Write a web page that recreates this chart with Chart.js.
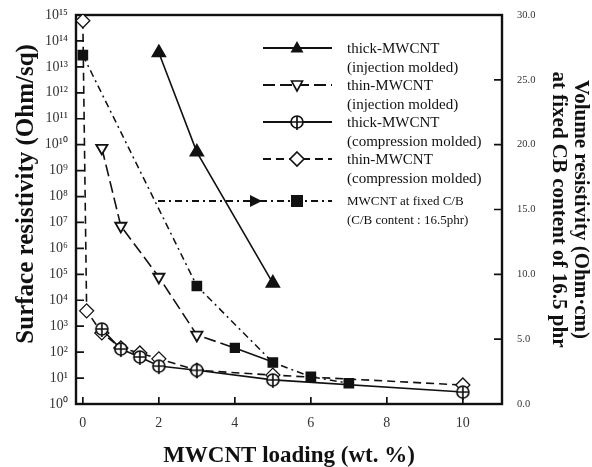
<!DOCTYPE html>
<html>
<head>
<meta charset="utf-8">
<script src="https://cdn.jsdelivr.net/npm/chart.js@4.4.0/dist/chart.umd.min.js"></script>
<style>
html, body { margin: 0; padding: 0; background: #fff; }
#wrap { width: 592px; height: 467px; }
</style>
</head>
<body>
<div id="wrap"><canvas id="myChart" width="592" height="467"></canvas></div>
<script>
'use strict';

// tick values
var loadingTicks = [0, 2, 4, 6, 8, 10];
var surfaceTicks = [1e0, 1e1, 1e2, 1e3, 1e4, 1e5, 1e6, 1e7, 1e8, 1e9, 1e10, 1e11, 1e12, 1e13, 1e14, 1e15];
var volumeTicks = [0, 5, 10, 15, 20, 25, 30];

// thick-MWCNT (injection molded), Ohm/sq
var thickInjX = [2, 3, 5];
var thickInjY = [3.5e13, 5.2e9, 4.6e4];
// thin-MWCNT (injection molded), Ohm/sq
var thinInjX = [0.5, 1, 2, 3, 4, 5];
var thinInjY = [7.4e9, 7.3e6, 7.9e4, 460, 145, 42];
// thick-MWCNT (compression molded), Ohm/sq
var thickCompX = [0.5, 1, 1.5, 2, 3, 5, 10];
var thickCompY = [780, 132, 65, 29, 20, 8.5, 2.9];
// thin-MWCNT (compression molded), Ohm/sq
var thinCompX = [0, 0.1, 0.5, 1, 1.5, 2, 3, 5, 10];
var thinCompY = [6e14, 3.9e3, 550, 145, 93, 55, 20, 13, 5.4];
// MWCNT at fixed C/B, Ohm.cm (right axis)
var fixedCbX = [0, 3, 5, 6, 7];
var fixedCbY = [26.9, 9.1, 3.2, 2.1, 1.6];

var serif = '"Liberation Serif", "Times New Roman", serif';
var ink = '#111';

function pts(xs, ys) {
    return xs.map(function(x, i) { return {x: x, y: ys[i]}; });
}

function circleCross(r) {
    var s = 2 * r + 6;
    var c = document.createElement('canvas');
    c.width = s; c.height = s;
    var g = c.getContext('2d');
    g.fillStyle = '#fff';
    g.strokeStyle = ink;
    g.lineWidth = 1.7;
    g.beginPath();
    g.arc(s / 2, s / 2, r, 0, Math.PI * 2);
    g.fill();
    g.stroke();
    g.beginPath();
    g.moveTo(s / 2 - r, s / 2); g.lineTo(s / 2 + r, s / 2);
    g.moveTo(s / 2, s / 2 - r); g.lineTo(s / 2, s / 2 + r + 2);
    g.stroke();
    return c;
}
var ocMarker = circleCross(6);

var sup = '⁰¹²³⁴⁵⁶⁷⁸⁹';
function powLabel(v) {
    var e = String(Math.round(Math.log10(v)));
    var s = '';
    for (var i = 0; i < e.length; i++) s += sup[+e[i]];
    return '10' + s;
}

function noPad(s) {
    s.paddingTop = 0;
    s.paddingBottom = 0;
}

function drawMarker(ctx, kind, x, y) {
    ctx.save();
    ctx.setLineDash([]);
    ctx.lineWidth = 1.6;
    ctx.strokeStyle = ink;
    ctx.fillStyle = ink;
    ctx.beginPath();
    if (kind === 'triUp') {
        ctx.moveTo(x, y - 7); ctx.lineTo(x + 6.5, y + 4.5); ctx.lineTo(x - 6.5, y + 4.5); ctx.closePath();
        ctx.fill();
    } else if (kind === 'triDown') {
        ctx.fillStyle = '#fff';
        ctx.moveTo(x, y + 6); ctx.lineTo(x + 5.5, y - 4); ctx.lineTo(x - 5.5, y - 4); ctx.closePath();
        ctx.fill(); ctx.stroke();
    } else if (kind === 'circleCross') {
        ctx.drawImage(ocMarker, x - ocMarker.width / 2, y - ocMarker.height / 2);
    } else if (kind === 'diamond') {
        ctx.fillStyle = '#fff';
        ctx.moveTo(x, y - 7); ctx.lineTo(x + 7, y); ctx.lineTo(x, y + 7); ctx.lineTo(x - 7, y); ctx.closePath();
        ctx.fill(); ctx.stroke();
    } else if (kind === 'square') {
        ctx.rect(x - 6, y - 6, 12, 12);
        ctx.fill();
    } else if (kind === 'arrow') {
        ctx.moveTo(x + 7, y); ctx.lineTo(x - 5, y - 6); ctx.lineTo(x - 5, y + 6); ctx.closePath();
        ctx.fill();
    }
    ctx.restore();
}

var legendRows = [
    {y: 48, dash: [], marker: 'triUp', text: ['thick-MWCNT', '(injection molded)']},
    {y: 85, dash: [12, 5], marker: 'triDown', text: ['thin-MWCNT', '(injection molded)']},
    {y: 122, dash: [], marker: 'circleCross', text: ['thick-MWCNT', '(compression molded)']},
    {y: 159, dash: [8, 5], marker: 'diamond', text: ['thin-MWCNT', '(compression molded)']},
    {y: 201, dash: [7, 4, 2, 4], marker: 'square', text: ['MWCNT at fixed C/B', '(C/B content : 16.5phr)']}
];

var framePlugin = {
    id: 'frame',
    beforeDatasetsDraw: function(chart) {
        var ctx = chart.ctx, a = chart.chartArea, s = chart.scales;
        ctx.save();
        ctx.strokeStyle = ink;
        ctx.lineWidth = 2.4;
        ctx.strokeRect(a.left, a.top, a.right - a.left, a.bottom - a.top);
        ctx.lineWidth = 1.7;
        ctx.beginPath();
        s.y.ticks.forEach(function(t) {
            var py = s.y.getPixelForValue(t.value);
            ctx.moveTo(a.left, py); ctx.lineTo(a.left + 8, py);
        });
        s.y2.ticks.forEach(function(t) {
            var py = s.y2.getPixelForValue(t.value);
            ctx.moveTo(a.right, py); ctx.lineTo(a.right - 8, py);
        });
        s.x.ticks.forEach(function(t) {
            var px = s.x.getPixelForValue(t.value);
            ctx.moveTo(px, a.bottom); ctx.lineTo(px, a.bottom - 7);
        });
        ctx.stroke();
        ctx.restore();
    },
    afterDatasetsDraw: function(chart) {
        var ctx = chart.ctx;
        ctx.save();
        legendRows.forEach(function(row, i) {
            var x0 = i === 4 ? 158 : 263;
            ctx.strokeStyle = ink;
            ctx.lineWidth = 1.8;
            ctx.setLineDash(row.dash);
            ctx.beginPath();
            ctx.moveTo(x0, row.y); ctx.lineTo(332, row.y);
            ctx.stroke();
            if (i === 4) drawMarker(ctx, 'arrow', 255, row.y);
            drawMarker(ctx, row.marker, 297, row.y);
            ctx.setLineDash([]);
            ctx.fillStyle = ink;
            ctx.textBaseline = 'middle';
            ctx.textAlign = 'left';
            ctx.font = (i === 4 ? '13px ' : '15px ') + serif;
            ctx.fillText(row.text[0], 347, row.y + 1);
            ctx.fillText(row.text[1], 347, row.y + 20);
        });
        ctx.restore();
    }
};

var ctx = document.getElementById('myChart');
var myChart = new Chart(ctx, {
    type: 'line',
    data: {
        datasets: [{
            label: 'thick-MWCNT (injection molded)',
            data: pts(thickInjX, thickInjY),
            yAxisID: 'y',
            borderColor: ink,
            borderWidth: 1.6,
            pointStyle: 'triangle',
            pointRadius: 7.5,
            pointBackgroundColor: ink,
            pointBorderColor: ink
        }, {
            label: 'thin-MWCNT (injection molded)',
            data: pts(thinInjX, thinInjY),
            yAxisID: 'y',
            borderColor: ink,
            borderWidth: 1.6,
            borderDash: [12, 5],
            segment: {
                borderDash: function(c) { return c.p0DataIndex >= 4 ? [] : [12, 5]; }
            },
            pointStyle: ['triangle', 'triangle', 'triangle', 'triangle', 'rect', 'rect'],
            pointRotation: [180, 180, 180, 180, 0, 0],
            pointRadius: [6.5, 6.5, 6.5, 6.5, 6, 0],
            pointBorderWidth: 1.8,
            pointBackgroundColor: ['#fff', '#fff', '#fff', '#fff', ink, ink],
            pointBorderColor: ink
        }, {
            label: 'thick-MWCNT (compression molded)',
            data: pts(thickCompX, thickCompY),
            yAxisID: 'y',
            borderColor: ink,
            borderWidth: 1.6,
            pointStyle: ocMarker,
            pointRadius: 6
        }, {
            label: 'thin-MWCNT (compression molded)',
            data: pts(thinCompX, thinCompY),
            yAxisID: 'y',
            borderColor: ink,
            borderWidth: 1.6,
            borderDash: [8, 5],
            pointStyle: 'rectRot',
            pointRadius: 7,
            pointBorderWidth: 1.3,
            pointBackgroundColor: '#fff',
            pointBorderColor: ink
        }, {
            label: 'MWCNT at fixed C/B',
            data: pts(fixedCbX, fixedCbY),
            yAxisID: 'y2',
            borderColor: ink,
            borderWidth: 1.5,
            borderDash: [7, 4, 2, 4],
            pointStyle: 'rect',
            pointRadius: 6.5,
            pointBackgroundColor: ink,
            pointBorderColor: ink
        }]
    },
    options: {
        responsive: false,
        animation: false,
        layout: { padding: { top: 15, left: 0, right: 0, bottom: 0 } },
        plugins: {
            legend: { display: false },
            tooltip: { enabled: false }
        },
        scales: {
            x: {
                type: 'linear',
                min: -0.18,
                max: 11.03,
                afterBuildTicks: function(s) { s.ticks = loadingTicks.map(function(v) { return {value: v}; }); },
                afterFit: function(s) { s.height = 63; s.paddingLeft = 0; s.paddingRight = 0; },
                grid: { display: false, drawTicks: false },
                border: { display: false },
                ticks: { color: '#333', padding: 11, font: { family: serif, size: 14 } },
                title: {
                    display: true,
                    text: 'MWCNT loading (wt. %)',
                    color: ink,
                    padding: { top: 0, bottom: -1 },
                    font: { family: serif, size: 23, weight: 'bold', lineHeight: 1 }
                }
            },
            y: {
                type: 'logarithmic',
                position: 'left',
                min: 1,
                max: 1e15,
                afterBuildTicks: function(s) { s.ticks = surfaceTicks.map(function(v) { return {value: v}; }); },
                afterFit: function(s) { s.width = 76; noPad(s); },
                grid: { display: false, drawTicks: false },
                border: { display: false },
                ticks: { color: '#333', padding: 8, font: { family: serif, size: 14 }, callback: powLabel },
                title: {
                    display: true,
                    text: '\u00a0\u00a0\u00a0\u00a0\u00a0Surface resistivity (Ohm/sq)',
                    color: ink,
                    padding: { top: 12, bottom: 0 },
                    font: { family: serif, size: 25, weight: 'bold', lineHeight: 1.2 }
                }
            },
            y2: {
                type: 'linear',
                position: 'right',
                min: 0,
                max: 30,
                afterBuildTicks: function(s) { s.ticks = volumeTicks.map(function(v) { return {value: v}; }); },
                afterFit: function(s) { s.width = 90; noPad(s); },
                grid: { display: false, drawTicks: false },
                border: { display: false },
                ticks: { color: '#333', padding: 15, font: { family: serif, size: 10.5 }, callback: function(v) { return v.toFixed(1); } },
                title: {
                    display: true,
                    text: ['Volume resistivity (Ohm·cm)', 'at fixed CB content of 16.5 phr'],
                    color: ink,
                    padding: { top: 1, bottom: 0 },
                    font: { family: serif, size: 21, weight: 'bold', lineHeight: 1.05 }
                }
            }
        }
    },
    plugins: [framePlugin]
});
</script>
</body>
</html>
